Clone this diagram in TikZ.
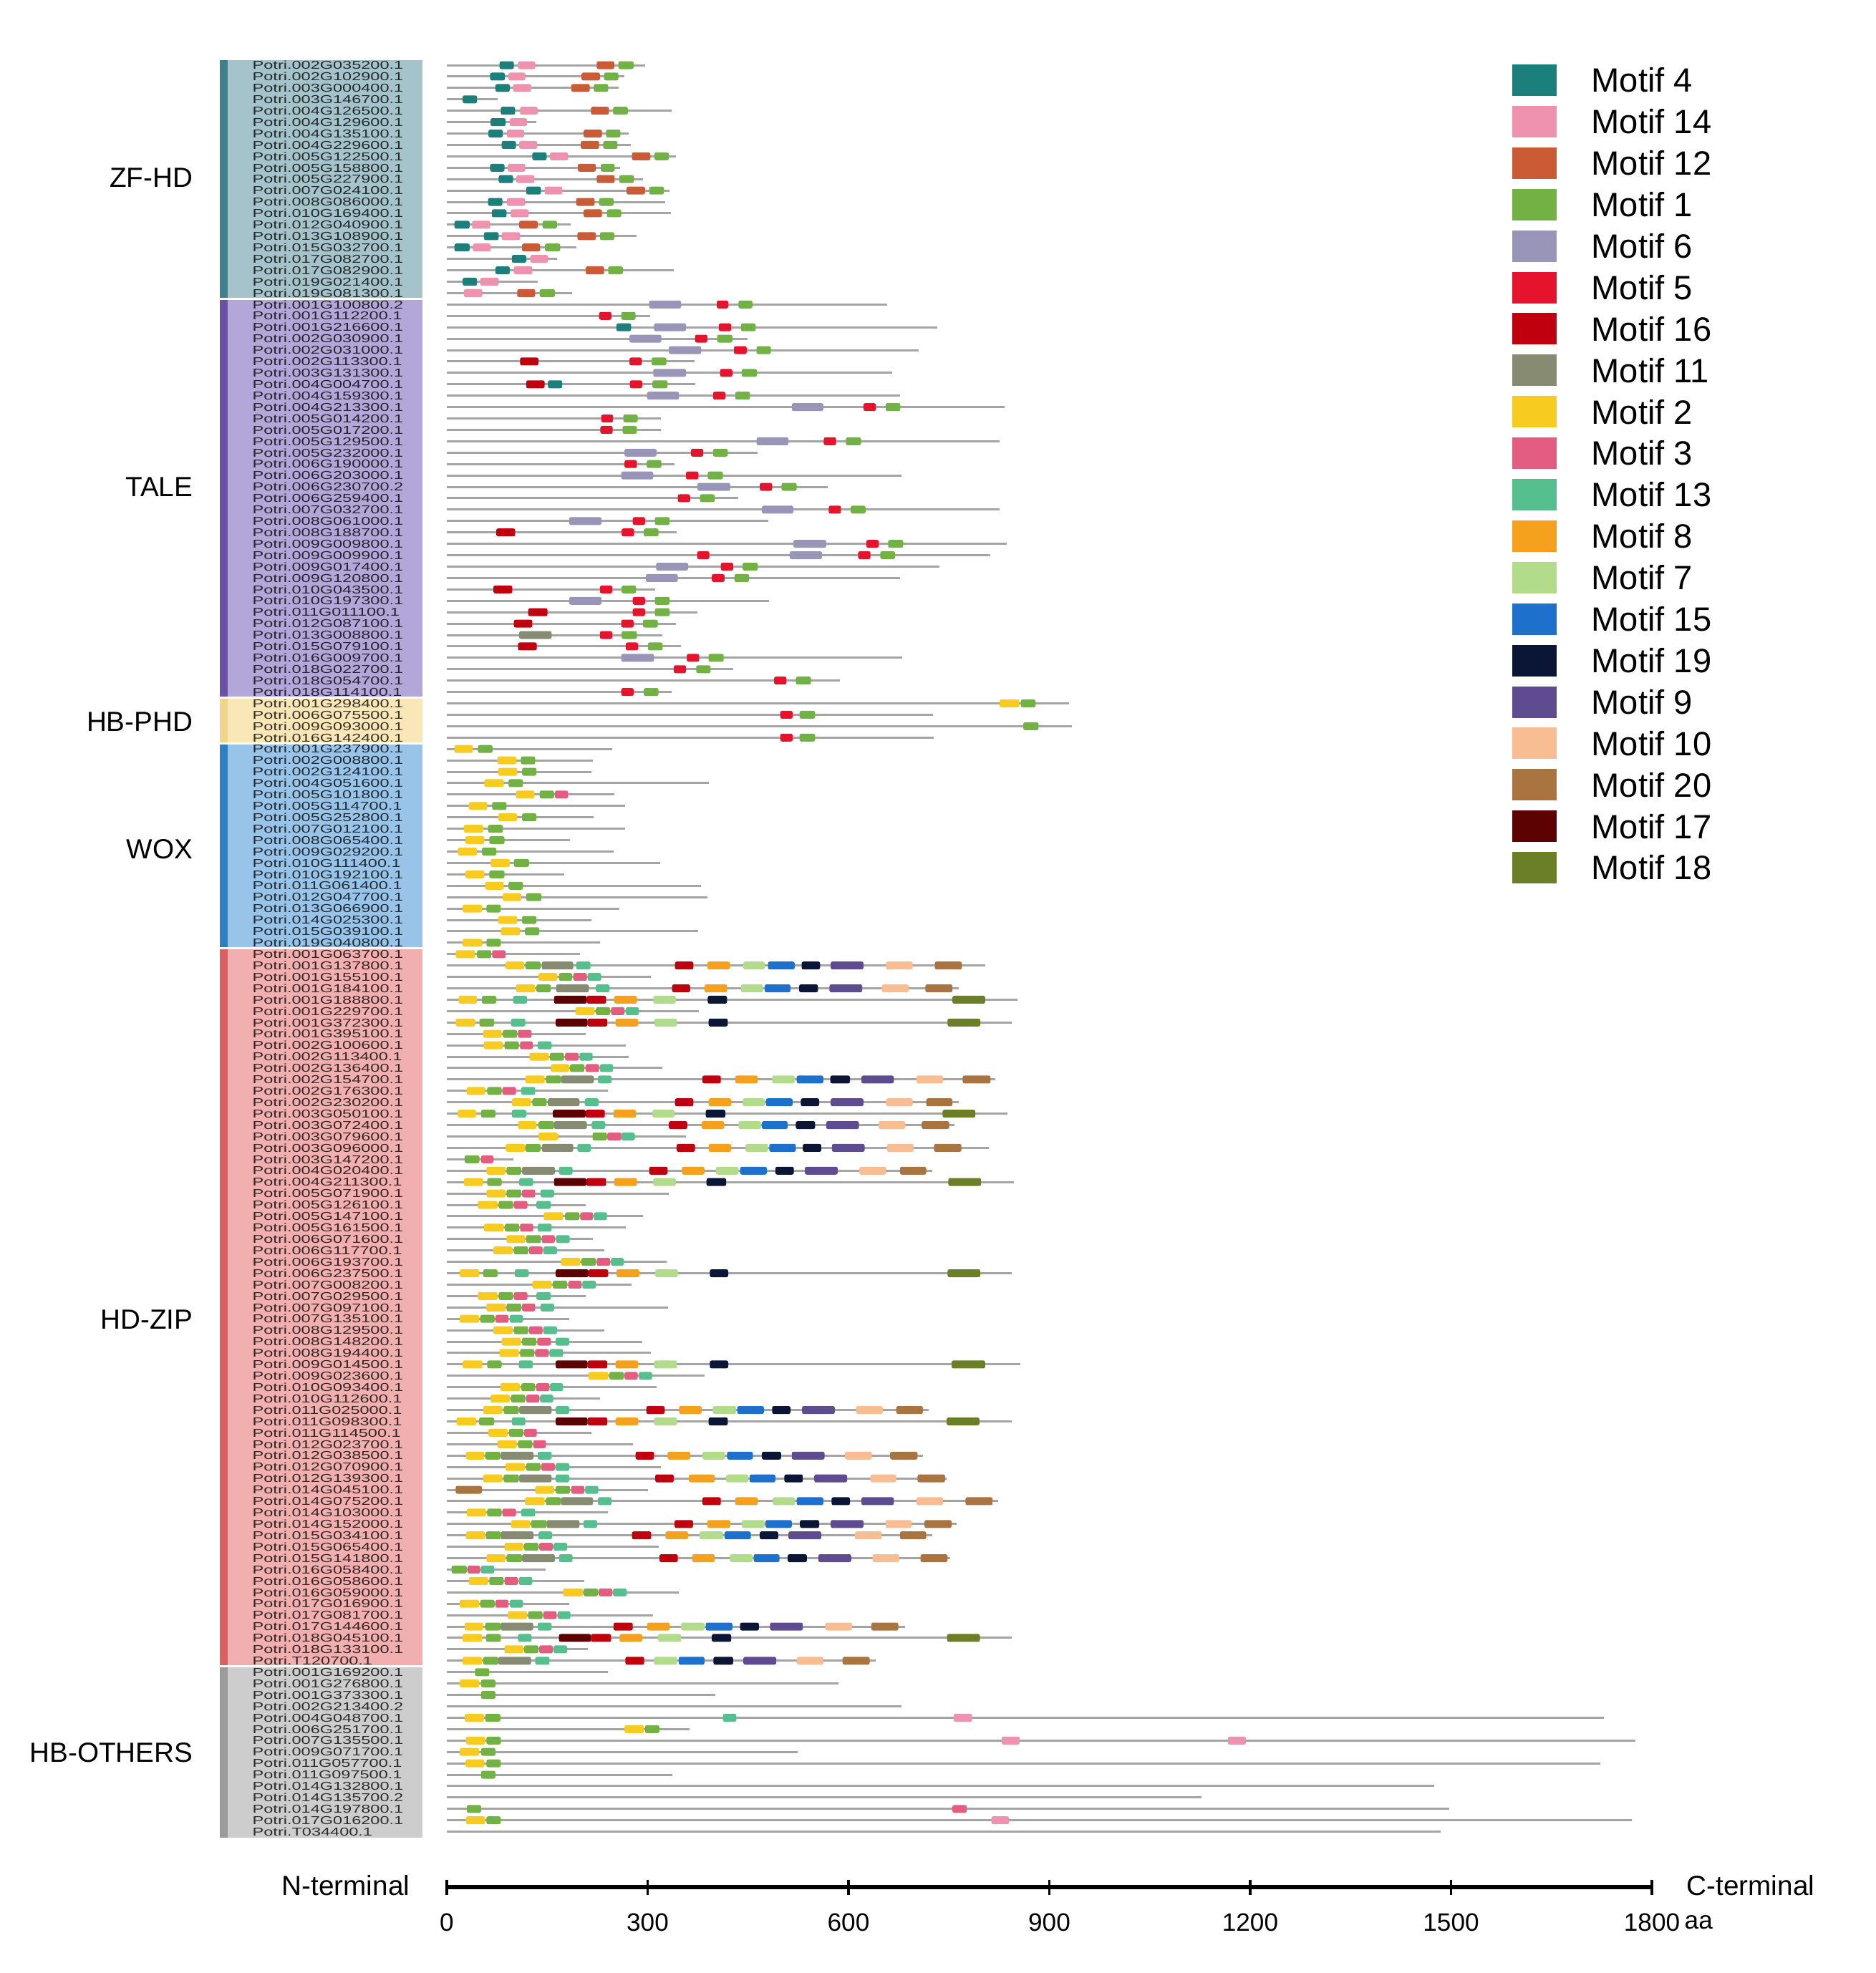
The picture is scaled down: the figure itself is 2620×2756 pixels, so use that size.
\documentclass[tikz,border=0pt]{standalone}
\usepackage{fontspec}
\usepackage{graphicx}
\setmainfont{Liberation Sans}
\definecolor{gl}{HTML}{A4A4A4}
\definecolor{m4}{HTML}{1B7F7C}
\definecolor{m14}{HTML}{EF92B0}
\definecolor{m12}{HTML}{CB5B34}
\definecolor{m1}{HTML}{72B244}
\definecolor{m6}{HTML}{9895B8}
\definecolor{m5}{HTML}{E5132C}
\definecolor{m16}{HTML}{C0000F}
\definecolor{m11}{HTML}{868B72}
\definecolor{m2}{HTML}{F7CB1F}
\definecolor{m3}{HTML}{E55C81}
\definecolor{m13}{HTML}{55BF8E}
\definecolor{m8}{HTML}{F6A11E}
\definecolor{m7}{HTML}{B2DC8C}
\definecolor{m15}{HTML}{1D70CB}
\definecolor{m19}{HTML}{0B1535}
\definecolor{m9}{HTML}{5F4B8F}
\definecolor{m10}{HTML}{F8BD93}
\definecolor{m20}{HTML}{A9743F}
\definecolor{m17}{HTML}{5D0202}
\definecolor{m18}{HTML}{6B7F27}
\definecolor{zfl}{HTML}{A5C3CB}\definecolor{zfd}{HTML}{3D7F8A}
\definecolor{tal}{HTML}{B3A6D8}\definecolor{tad}{HTML}{6A50A7}
\definecolor{phl}{HTML}{F9E7B7}\definecolor{phd}{HTML}{F1D58A}
\definecolor{wol}{HTML}{98C4E9}\definecolor{wod}{HTML}{2F7EC4}
\definecolor{hdl}{HTML}{F2AFAF}\definecolor{hdd}{HTML}{DE5F5F}
\definecolor{otl}{HTML}{CDCDCD}\definecolor{otd}{HTML}{9B9B9B}
\newcommand\generow[3]{%
  \pgfmathsetmacro\yy{91+15.92*#1}%
  \draw[gline] (7,\yy) -- (#2,\yy);%
  \foreach \a/\b/\c in {#3}{\fill[\c,rounded corners=0.7pt] (\a,\yy-5.5) rectangle (\b,\yy+5.5);}%
}
\newcommand\genline[2]{%
  \pgfmathsetmacro\yy{91+15.92*#1}%
  \draw[gline] (7,\yy) -- (#2,\yy);%
}
\newcommand\gn[1]{\scalebox{1.47}[1]{Potri.#1}}
\tikzset{
  gline/.style={draw=gl,line width=0.85pt},
  gname/.style={anchor=west,inner sep=0pt,font=\fontsize{4.55}{4.55}\selectfont,text=black,text opacity=0.78},
  grp/.style={anchor=east,inner sep=0pt,font=\fontsize{11}{13}\selectfont},
  legtxt/.style={anchor=west,inner sep=0pt,font=\fontsize{13.4}{15}\selectfont},
  axlab/.style={inner sep=0pt,font=\fontsize{10}{12}\selectfont},
  termlab/.style={inner sep=0pt,font=\fontsize{11}{13}\selectfont}
}
\begin{document}
\begin{tikzpicture}[x=0.01cm,y=-0.01cm]
\useasboundingbox (0,0) rectangle (2620,2756);
\fill[white] (0,0) rectangle (2620,2756);
% group bands
\foreach \ya/\yb/\cl/\cd/\lab/\ly [count=\k] in {83/417.3/zfl/zfd/ZF-HD/248,417.3/974.5/tal/tad/TALE/680,974.5/1038.2/phl/phd/HB-PHD/1008,1038.2/1324.8/wol/wod/WOX/1186,1324.8/2327.8/hdl/hdd/HD-ZIP/1843,2327.8/2566.5/otl/otd/HB-OTHERS/2448}{
  \fill[\cl] (307,\ya) rectangle (590,\yb);
  \fill[\cd] (307,\ya) rectangle (318,\yb);
  \draw[white,line width=0.8pt] (307,\ya) -- (590,\ya);
  \node[grp] (grp\k) at (270,\ly) {\lab};
}
% gene names
\foreach \n [count=\i from 0] in {002G035200.1,002G102900.1,003G000400.1,003G146700.1,004G126500.1,004G129600.1,004G135100.1,004G229600.1,005G122500.1,005G158800.1,005G227900.1,007G024100.1,008G086000.1,010G169400.1,012G040900.1,013G108900.1,015G032700.1,017G082700.1,017G082900.1,019G021400.1,019G081300.1,
001G100800.2,001G112200.1,001G216600.1,002G030900.1,002G031000.1,002G113300.1,003G131300.1,004G004700.1,004G159300.1,004G213300.1,005G014200.1,005G017200.1,005G129500.1,005G232000.1,006G190000.1,006G203000.1,006G230700.2,006G259400.1,007G032700.1,008G061000.1,008G188700.1,009G009800.1,009G009900.1,009G017400.1,009G120800.1,010G043500.1,010G197300.1,011G011100.1,012G087100.1,013G008800.1,015G079100.1,016G009700.1,018G022700.1,018G054700.1,018G114100.1,
001G298400.1,006G075500.1,009G093000.1,016G142400.1,
001G237900.1,002G008800.1,002G124100.1,004G051600.1,005G101800.1,005G114700.1,005G252800.1,007G012100.1,008G065400.1,009G029200.1,010G111400.1,010G192100.1,011G061400.1,012G047700.1,013G066900.1,014G025300.1,015G039100.1,019G040800.1,
001G063700.1,001G137800.1,001G155100.1,001G184100.1,001G188800.1,001G229700.1,001G372300.1,001G395100.1,002G100600.1,002G113400.1,002G136400.1,002G154700.1,002G176300.1,002G230200.1,003G050100.1,003G072400.1,003G079600.1,003G096000.1,003G147200.1,004G020400.1,004G211300.1,005G071900.1,005G126100.1,005G147100.1,005G161500.1,006G071600.1,006G117700.1,006G193700.1,006G237500.1,007G008200.1,007G029500.1,007G097100.1,007G135100.1,008G129500.1,008G148200.1,008G194400.1,009G014500.1,009G023600.1,010G093400.1,010G112600.1,011G025000.1,011G098300.1,011G114500.1,012G023700.1,012G038500.1,012G070900.1,012G139300.1,014G045100.1,014G075200.1,014G103000.1,014G152000.1,015G034100.1,015G065400.1,015G141800.1,016G058400.1,016G058600.1,016G059000.1,017G016900.1,017G081700.1,017G144600.1,018G045100.1,018G133100.1,T120700.1,
001G169200.1,001G276800.1,001G373300.1,002G213400.2,004G048700.1,006G251700.1,007G135500.1,009G071700.1,011G057700.1,011G097500.1,014G132800.1,014G135700.2,014G197800.1,017G016200.1,T034400.1}{
  \node[gname] (n\i) at (352,{91+15.92*\i}) {\gn{\n}};
}
% gene structures
\begin{scope}[xshift=6.2cm]
\begin{scope}[xscale=0.5724]
% ZF-HD
\generow{0}{490}{135/170/m4,180/222/m14,372/415/m12,425/462/m1}
\generow{1}{440}{112/148/m4,157/198/m14,335/380/m12,390/425/m1}
\generow{2}{425}{125/160/m4,168/212/m14,310/355/m12,365/400/m1}
\generow{3}{130}{45/80/m4}
\generow{4}{555}{138/173/m4,185/228/m14,358/402/m12,412/448/m1}
\generow{5}{225}{113/150/m4,160/202/m14}
\generow{6}{450}{108/143/m4,153/195/m14,340/385/m12,395/430/m1}
\generow{7}{455}{140/175/m4,183/227/m14,333/378/m12,388/423/m1}
\generow{8}{565}{215/250/m4,258/302/m14,458/503/m12,513/548/m1}
\generow{9}{430}{112/147/m4,155/198/m14,326/370/m12,382/416/m1}
\generow{10}{485}{133/168/m4,176/220/m14,372/416/m12,427/463/m1}
\generow{11}{550}{200/236/m4,245/288/m14,445/490/m12,500/536/m1}
\generow{12}{540}{107/142/m4,153/197/m14,322/367/m12,378/413/m1}
\generow{13}{553}{116/152/m4,162/206/m14,340/385/m12,397/432/m1}
\generow{14}{308}{25/62/m4,68/112/m14,183/228/m12,240/275/m1}
\generow{15}{470}{97/133/m4,140/185/m14,325/370/m12,380/415/m1}
\generow{16}{322}{25/62/m4,70/113/m14,190/234/m12,246/283/m1}
\generow{17}{275}{165/200/m4,210/253/m14}
\generow{18}{560}{125/160/m4,170/215/m14,345/390/m12,400/436/m1}
\generow{19}{228}{45/80/m4,88/133/m14}
\generow{20}{312}{48/93/m14,178/222/m12,233/270/m1}
% TALE
\generow{21}{1080}{500/578/m6,665/693/m5,718/752/m1}
\generow{22}{502}{378/408/m5,432/467/m1}
\generow{23}{1203}{420/456/m4,512/590/m6,670/700/m5,724/760/m1}
\generow{24}{740}{452/530/m6,612/642/m5,666/703/m1}
\generow{25}{1158}{548/627/m6,707/738/m5,762/797/m1}
\generow{26}{610}{185/230/m16,452/482/m5,506/542/m1}
\generow{27}{1093}{510/590/m6,673/703/m5,726/763/m1}
\generow{28}{612}{200/245/m16,253/288/m4,453/483/m5,508/545/m1}
\generow{29}{1112}{495/573/m6,656/686/m5,710/746/m1}
\generow{30}{1367}{848/925/m6,1023/1053/m5,1077/1113/m1}
\generow{31}{528}{383/412/m5,437/472/m1}
\generow{32}{528}{381/411/m5,435/470/m1}
\generow{33}{1355}{762/840/m6,926/956/m5,980/1017/m1}
\generow{34}{765}{440/518/m6,602/632/m5,656/692/m1}
\generow{35}{562}{440/470/m5,494/530/m1}
\generow{36}{1115}{432/510/m6,590/620/m5,643/680/m1}
\generow{37}{935}{618/698/m6,770/800/m5,823/860/m1}
\generow{38}{717}{570/600/m5,624/660/m1}
\generow{39}{1355}{775/852/m6,938/968/m5,992/1028/m1}
\generow{40}{790}{305/384/m6,460/490/m5,514/550/m1}
\generow{41}{567}{127/173/m16,433/463/m5,487/523/m1}
\generow{42}{1372}{852/932/m6,1030/1060/m5,1083/1120/m1}
\generow{43}{1333}{617/647/m5,843/922/m6,1010/1040/m5,1064/1100/m1}
\generow{44}{1208}{517/595/m6,675/705/m5,728/765/m1}
\generow{45}{1112}{492/570/m6,653/684/m5,708/744/m1}
\generow{46}{515}{120/166/m16,380/410/m5,433/468/m1}
\generow{47}{793}{305/384/m6,460/490/m5,514/550/m1}
\generow{48}{618}{205/252/m16,460/490/m5,514/550/m1}
\generow{49}{565}{170/215/m16,432/462/m5,485/521/m1}
\generow{50}{533}{183/262/m11,380/410/m5,433/470/m1}
\generow{51}{577}{180/226/m16,443/473/m5,497/533/m1}
\generow{52}{1117}{432/512/m6,592/622/m5,645/682/m1}
\generow{53}{705}{560/590/m5,615/650/m1}
\generow{54}{965}{805/835/m5,858/895/m1}
\generow{55}{555}{432/462/m5,487/523/m1}
% HB-PHD
\generow{56}{1525}{1355/1403/m2,1407/1443/m1}
\generow{57}{1192}{820/850/m5,867/905/m1}
\generow{58}{1532}{1413/1450/m1}
\generow{59}{1195}{820/850/m5,867/905/m1}
% WOX
\generow{60}{410}{25/70/m2,82/118/m1}
\generow{61}{362}{130/176/m2,187/222/m1}
\generow{62}{360}{132/178/m2,190/225/m1}
\generow{63}{645}{98/145/m2,157/192/m1}
\generow{64}{415}{175/220/m2,233/268/m1,270/302/m3}
\generow{65}{442}{60/105/m2,117/152/m1}
\generow{66}{365}{132/178/m2,190/225/m1}
\generow{67}{442}{48/95/m2,107/143/m1}
\generow{68}{307}{52/98/m2,110/147/m1}
\generow{69}{413}{33/80/m2,92/127/m1}
\generow{70}{527}{113/160/m2,170/207/m1}
\generow{71}{292}{52/98/m2,110/147/m1}
\generow{72}{627}{100/145/m2,157/192/m1}
\generow{73}{642}{143/188/m2,200/237/m1}
\generow{74}{428}{45/92/m2,103/138/m1}
\generow{75}{360}{132/178/m2,190/225/m1}
\generow{76}{620}{138/185/m2,197/232/m1}
\generow{77}{380}{45/92/m2,103/138/m1}
% HD-ZIP
\generow{78}{332}{28/75/m2,80/115/m1,117/150/m3}
\generow{79}{1320}{150/195/m2,198/235/m1,238/315/m11,322/357/m13,563/608/m16,642/697/m8,730/782/m7,790/855/m15,872/917/m19,943/1023/m9,1078/1143/m10,1197/1263/m20}
\generow{80}{505}{230/276/m2,280/312/m1,315/348/m3,350/383/m13}
\generow{81}{1255}{175/222/m2,225/260/m1,273/353/m11,370/403/m13,556/600/m16,635/690/m8,724/778/m7,782/845/m15,866/912/m19,940/1020/m9,1068/1133/m10,1174/1240/m20}
\generow{82}{1398}{35/80/m2,92/127/m1,168/202/m13,268/348/m17,348/395/m16,415/470/m8,510/565/m7,643/690/m19,1240/1320/m18}
\generow{83}{622}{320/367/m2,370/405/m1,407/440/m3,443/475/m13}
\generow{84}{1385}{28/76/m2,86/122/m1,163/198/m13,272/350/m17,350/398/m16,418/473/m8,513/568/m7,645/692/m19,1228/1308/m18}
\generow{85}{345}{95/140/m2,143/178/m1,180/213/m3}
\generow{86}{443}{97/143/m2,147/182/m1,185/216/m3,228/262/m13}
\generow{87}{450}{208/255/m2,258/292/m1,295/328/m3,330/362/m13}
\generow{88}{533}{260/305/m2,307/342/m1,345/378/m3,380/412/m13}
\generow{89}{1345}{198/245/m2,248/285/m1,285/365/m11,375/408/m13,630/675/m16,710/765/m8,800/855/m7,860/925/m15,942/990/m19,1018/1097/m9,1152/1217/m10,1265/1333/m20}
\generow{90}{400}{55/100/m2,105/140/m1,142/175/m3,188/222/m13}
\generow{91}{1255}{165/212/m2,215/250/m1,253/330/m11,343/377/m13,563/608/m16,645/700/m8,728/782/m7,785/850/m15,870/915/m19,943/1023/m9,1078/1143/m10,1176/1240/m20}
\generow{92}{1375}{33/78/m2,90/125/m1,165/200/m13,265/345/m17,345/392/m16,413/468/m8,508/562/m7,638/686/m19,1216/1296/m18}
\generow{93}{1245}{180/225/m2,230/268/m1,268/348/m11,360/393/m13,548/593/m16,628/683/m8,718/773/m7,775/838/m15,858/905/m19,932/1012/m9,1060/1125/m10,1165/1232/m20}
\generow{94}{590}{230/277/m2,362/397/m1,398/432/m3,432/465/m13}
\generow{95}{1328}{150/197/m2,198/235/m1,238/315/m11,325/358/m13,567/612/m16,645/700/m8,735/790/m7,793/858/m15,875/920/m19,946/1026/m9,1080/1145/m10,1195/1262/m20}
\generow{96}{168}{50/86/m1,90/120/m3}
\generow{97}{1190}{103/150/m2,152/188/m1,190/270/m11,280/313/m13,500/545/m16,580/635/m8,663/718/m7,722/787/m15,808/853/m19,880/960/m9,1013/1078/m10,1112/1176/m20}
\generow{98}{1390}{48/95/m2,105/140/m1,183/217/m13,268/347/m17,347/395/m16,415/470/m8,510/565/m7,640/688/m19,1230/1310/m18}
\generow{99}{548}{103/150/m2,152/188/m1,190/222/m3,235/268/m13}
\generow{100}{345}{82/130/m2,133/168/m1,170/203/m3,225/260/m13}
\generow{101}{485}{243/290/m2,295/330/m1,332/363/m3,365/397/m13}
\generow{102}{443}{97/145/m2,148/183/m1,185/217/m3,228/262/m13}
\generow{103}{362}{152/198/m2,200/236/m1,238/270/m3,273/306/m13}
\generow{104}{390}{120/167/m2,170/205/m1,207/240/m3,242/275/m13}
\generow{105}{543}{285/332/m2,335/370/m1,372/405/m3,407/438/m13}
\generow{106}{1385}{38/85/m2,95/130/m1,172/206/m13,272/352/m17,352/400/m16,420/476/m8,515/570/m7,648/693/m19,1228/1308/m18}
\generow{107}{457}{215/262/m2,265/300/m1,303/335/m3,337/370/m13}
\generow{108}{345}{82/130/m2,133/168/m1,170/203/m3,225/260/m13}
\generow{109}{547}{103/150/m2,152/188/m1,190/222/m3,235/268/m13}
\generow{110}{305}{38/85/m2,88/123/m1,125/157/m3,160/192/m13}
\generow{111}{390}{120/167/m2,170/205/m1,207/240/m3,242/275/m13}
\generow{112}{483}{140/187/m2,190/225/m1,227/260/m3,272/305/m13}
\generow{113}{505}{135/182/m2,185/220/m1,222/255/m3,257/290/m13}
\generow{114}{1405}{45/93/m2,105/140/m1,182/216/m13,272/350/m17,350/398/m16,418/473/m8,512/568/m7,648/693/m19,1238/1320/m18}
\generow{115}{635}{352/400/m2,403/438/m1,440/472/m3,475/507/m13}
\generow{116}{518}{137/185/m2,188/222/m1,224/257/m3,258/290/m13}
\generow{117}{380}{113/160/m2,163/198/m1,200/232/m3,234/266/m13}
\generow{118}{1182}{95/142/m2,145/182/m1,183/262/m11,272/305/m13,493/538/m16,573/628/m8,655/712/m7,715/780/m15,800/845/m19,873/953/m9,1005/1070/m10,1103/1168/m20}
\generow{119}{1385}{30/78/m2,85/122/m1,165/198/m13,272/350/m17,350/398/m16,418/473/m8,512/568/m7,645/692/m19,1226/1306/m18}
\generow{120}{360}{108/155/m2,158/193/m1,195/226/m3}
\generow{121}{460}{130/177/m2,180/215/m1,217/248/m3}
\generow{122}{1168}{53/98/m2,100/137/m1,138/218/m11,228/262/m13,467/512/m16,545/600/m8,630/685/m7,690/753/m15,775/822/m19,848/928/m9,978/1043/m10,1088/1155/m20}
\generow{123}{528}{150/197/m2,200/235/m1,237/270/m3,272/305/m13}
\generow{124}{1225}{95/142/m2,145/182/m1,183/262/m11,272/305/m13,515/560/m16,597/660/m8,688/742/m7,745/808/m15,830/875/m19,903/983/m9,1040/1103/m10,1155/1222/m20}
\generow{125}{497}{28/92/m20,222/268/m2,272/307/m1,310/342/m3,344/376/m13}
\generow{126}{1352}{197/245/m2,248/285/m1,285/363/m11,375/408/m13,630/675/m16,710/765/m8,802/856/m7,860/925/m15,945/990/m19,1018/1097/m9,1152/1217/m10,1272/1338/m20}
\generow{127}{400}{55/102/m2,105/140/m1,142/175/m3,188/222/m13}
\generow{128}{1250}{163/210/m2,212/250/m1,250/330/m11,340/373/m13,562/607/m16,642/698/m8,726/782/m7,784/848/m15,868/915/m19,943/1023/m9,1077/1140/m10,1172/1238/m20}
\generow{129}{1190}{53/100/m2,102/138/m1,138/218/m11,230/263/m13,458/505/m16,540/595/m8,623/680/m7,684/748/m15,770/815/m19,840/920/m9,1002/1067/m10,1112/1176/m20}
\generow{130}{523}{147/193/m2,195/230/m1,232/265/m3,267/300/m13}
\generow{131}{1235}{103/150/m2,152/190/m1,190/270/m11,280/313/m13,525/570/m16,605/660/m8,697/752/m7,755/818/m15,838/885/m19,913/993/m9,1045/1110/m10,1162/1228/m20}
\generow{132}{248}{18/55/m1,57/88/m3,90/122/m13}
\generow{133}{342}{60/107/m2,110/145/m1,147/180/m3,182/215/m13}
\generow{134}{573}{290/338/m2,340/375/m1,377/410/m3,412/445/m13}
\generow{135}{305}{38/85/m2,88/123/m1,125/157/m3,160/192/m13}
\generow{136}{510}{155/202/m2,205/240/m1,242/274/m3,277/308/m13}
\generow{137}{1125}{50/95/m2,100/137/m1,137/217/m11,228/262/m13,413/460/m16,495/550/m8,578/635/m7,638/703/m15,722/768/m19,795/875/m9,930/995/m10,1042/1108/m20}
\generow{138}{1385}{45/92/m2,102/138/m1,180/213/m13,280/358/m17,358/407/m16,428/483/m8,522/578/m7,653/700/m19,1227/1307/m18}
\generow{139}{350}{147/193/m2,195/230/m1,232/265/m3,267/300/m13}
\generow{140}{1053}{45/92/m2,95/132/m1,132/212/m11,222/257/m13,442/488/m16,512/568/m7,572/635/m15,657/705/m19,730/810/m9,860/925/m10,972/1038/m20}
% HB-OTHERS
\generow{141}{400}{75/110/m1}
\generow{142}{962}{38/85/m2,90/125/m1}
\generow{143}{662}{90/125/m1}
\genline{144}{1115}
\generow{145}{2830}{50/97/m2,100/137/m1,680/713/m13,1243/1288/m14}
\generow{146}{598}{440/487/m2,490/525/m1}
\generow{147}{2907}{53/100/m2,103/138/m1,1360/1404/m14,1912/1956/m14}
\generow{148}{862}{38/85/m2,90/125/m1}
\generow{149}{2821}{52/98/m2,103/138/m1}
\generow{150}{557}{90/125/m1}
\genline{151}{2416}
\genline{152}{1848}
\generow{153}{2453}{55/90/m1,1240/1275/m3}
\generow{154}{2898}{53/100/m2,103/138/m1,1335/1378/m14}
\genline{155}{2432}
\end{scope}
\end{scope}
% legend
\foreach \m [count=\k from 0] in {4,14,12,1,6,5,16,11,2,3,13,8,7,15,19,9,10,20,17,18}{
  \fill[m\m] (2112,{112+57.9*\k-22}) rectangle (2174,{112+57.9*\k+22});
  \node[legtxt] (leg\m) at (2222,{112+57.9*\k}) {Motif \m};
}
% axis
\draw[line width=1.5pt] (624,2636) -- (2307,2636);
\foreach \t in {0,300,600,900,1200,1500,1800}{
  \draw[line width=0.9pt] ({624+0.935*\t},2626) -- ({624+0.935*\t},2647);
}
\foreach \t in {0,300,600,900,1200,1500,1800}{
  \node[axlab] (tick\t) at ({624+0.935*\t},2685) {\t};
}
\node[axlab,anchor=west] (aa) at (2352,2685) {aa};
\node[termlab] (nterm) at (483,2634) {N-terminal};
\node[termlab] (cterm) at (2445,2634) {C-terminal};
\end{tikzpicture}
\end{document}
